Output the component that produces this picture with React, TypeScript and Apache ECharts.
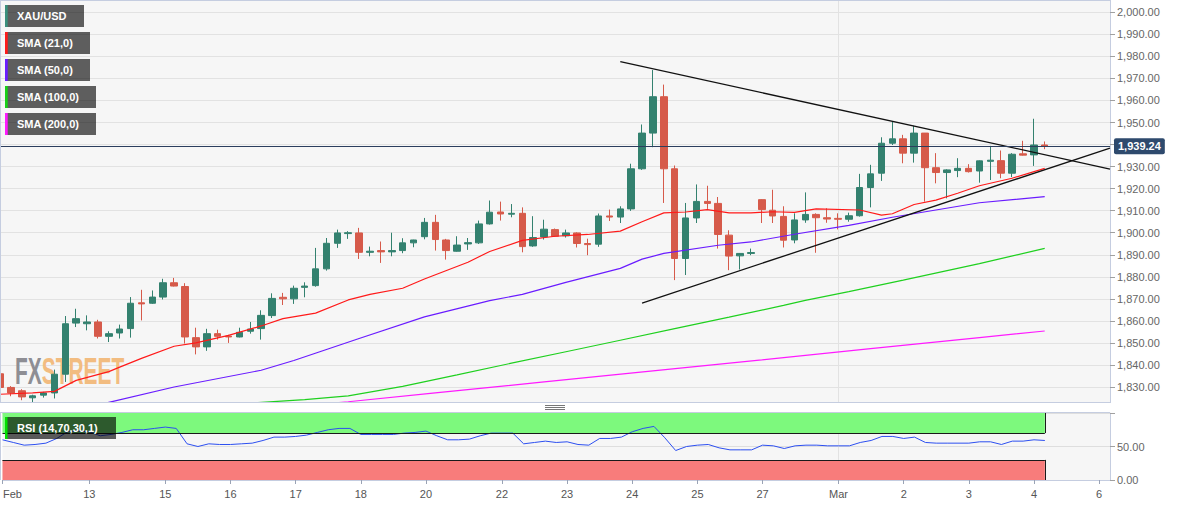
import React, { useEffect, useRef } from 'react';
import * as echarts from 'echarts';

// ---------- DATA ----------
const SLOT_COUNT = 103; // 4h slots on the time axis (97 candles + empty future slots)
const dayTickIndex = [0, 8, 15, 21, 27, 33, 39, 46, 52, 58, 64, 70, 77, 83, 89, 95, 101];
const dayTickLabel = ['Feb', '13', '15', '16', '17', '18', '20', '22', '23', '24', '25', '27', 'Mar', '2', '3', '4', '6'];
const monthLineIndex = 77;

// [open, close, low, high]
const candles: number[][] = [
  [1836, 1829.8, 1829, 1842.1],
  [1829.8, 1827.3, 1825.8, 1830.4],
  [1828.3, 1825.5, 1824, 1829],
  [1825.1, 1826, 1822.5, 1826.5],
  [1826.3, 1827.3, 1825.2, 1827.8],
  [1827.3, 1835.8, 1824.8, 1837.9],
  [1835.8, 1858.7, 1832.3, 1862.2],
  [1859, 1861, 1857.2, 1865.5],
  [1858.7, 1859.5, 1855.7, 1862.5],
  [1859.5, 1853, 1852, 1860.5],
  [1853, 1854.2, 1850.4, 1855.3],
  [1854.5, 1856.3, 1852, 1858.3],
  [1856.5, 1868, 1852.4, 1870.8],
  [1868.2, 1867.7, 1860.2, 1874.1],
  [1868, 1870.8, 1867.7, 1873.8],
  [1870.8, 1877.3, 1869.7, 1879.1],
  [1877.3, 1875.8, 1875.6, 1879.5],
  [1875.6, 1852.7, 1849.7, 1877.1],
  [1852.4, 1848.2, 1844.8, 1856.9],
  [1848.2, 1854.2, 1846.4, 1856.4],
  [1854.2, 1853, 1851.5, 1856],
  [1853.1, 1852.7, 1850, 1853.7],
  [1852.7, 1854.8, 1852.5, 1856.9],
  [1855.3, 1856.3, 1854.2, 1859.5],
  [1856.5, 1862.5, 1851.5, 1864.8],
  [1862.4, 1870.2, 1861.3, 1872.5],
  [1870.7, 1870, 1867.2, 1872.7],
  [1870, 1874.8, 1867.7, 1876],
  [1875.2, 1875.8, 1870.7, 1877.5],
  [1876, 1883.6, 1875.5, 1893.1],
  [1883.6, 1895.2, 1882.8, 1897.6],
  [1895.2, 1899.9, 1893.1, 1901.4],
  [1899.6, 1900, 1897.2, 1900.7],
  [1899.9, 1891.1, 1888.1, 1902.2],
  [1891.1, 1891.6, 1889.3, 1893.7],
  [1891.9, 1891.3, 1886.3, 1896],
  [1891.3, 1891.9, 1889.3, 1900],
  [1891.9, 1895.4, 1890.7, 1897.5],
  [1895.4, 1896.7, 1893.4, 1896.8],
  [1898.2, 1904.7, 1897, 1906.7],
  [1904.7, 1896.9, 1891.9, 1908.1],
  [1896.7, 1891.9, 1887.8, 1897.2],
  [1891.6, 1894.4, 1891.4, 1898.4],
  [1894.9, 1895.5, 1892.2, 1897.6],
  [1895.4, 1904, 1894.9, 1905.5],
  [1904, 1909.3, 1903.7, 1914.6],
  [1909.4, 1908.5, 1905.5, 1914.1],
  [1908.4, 1908.8, 1907, 1913],
  [1908.8, 1893.7, 1891.1, 1911.5],
  [1894, 1897.8, 1893.6, 1907.5],
  [1898.1, 1901.6, 1896.9, 1905.9],
  [1901.4, 1898.4, 1898.1, 1901.9],
  [1898.6, 1899.9, 1897.8, 1901.4],
  [1899.9, 1895.1, 1893.3, 1900.2],
  [1895.1, 1894.6, 1889.8, 1897.3],
  [1894.8, 1907.6, 1893.6, 1908.7],
  [1907.6, 1907.1, 1905.3, 1910.5],
  [1907.1, 1910.8, 1904.4, 1912],
  [1910.8, 1929, 1909.9, 1931.3],
  [1929, 1945.2, 1928.5, 1949.1],
  [1945.2, 1961.7, 1938.8, 1973.8],
  [1961.7, 1929, 1913.5, 1967.2],
  [1929, 1888.3, 1878.5, 1930.5],
  [1888.3, 1906.7, 1880.8, 1913.5],
  [1906.7, 1914.2, 1904.4, 1921.9],
  [1914.2, 1913.3, 1910.8, 1921.3],
  [1913.3, 1899.2, 1892.8, 1916.2],
  [1898.9, 1889.4, 1883, 1901.1],
  [1889.5, 1890.6, 1883.3, 1890.8],
  [1890.6, 1891, 1889.8, 1892.8],
  [1915, 1910.5, 1904.4, 1915.2],
  [1910.2, 1907.6, 1904.4, 1919.5],
  [1907.4, 1896.6, 1893.3, 1912],
  [1896.7, 1905.8, 1895.2, 1908.8],
  [1905.8, 1908.3, 1904.5, 1918.3],
  [1908.3, 1906.8, 1890.9, 1908.8],
  [1906.8, 1906.2, 1904.5, 1911.1],
  [1906.5, 1906.1, 1901.5, 1908.8],
  [1906.1, 1907.7, 1905, 1909.1],
  [1907.7, 1920.5, 1907.3, 1926.7],
  [1920.5, 1926.7, 1911.5, 1930.8],
  [1927, 1940.6, 1923.5, 1943.3],
  [1940.6, 1942.6, 1939.8, 1950.5],
  [1942.6, 1936.1, 1931.5, 1944.4],
  [1936.1, 1945.2, 1931.8, 1948.5],
  [1945.2, 1929.5, 1914.1, 1945.2],
  [1929.5, 1927.3, 1922.4, 1936.1],
  [1927.3, 1928.5, 1915.6, 1928.8],
  [1928.2, 1929.2, 1925.2, 1933.8],
  [1929.2, 1927.7, 1927.3, 1931.1],
  [1928, 1932.6, 1922.7, 1932.8],
  [1932.4, 1932.9, 1923.9, 1939.4],
  [1932.7, 1927, 1924.7, 1937.3],
  [1927, 1935.6, 1925.2, 1936.1],
  [1935.8, 1935.2, 1935, 1941.7],
  [1935.3, 1939.8, 1930.3, 1951.7],
  [1939.8, 1939.24, 1937.9, 1941.4],
];

// moving averages: [candle index, value]
const sma21: number[][] = [
  [0, 1826.7], [3, 1827.3], [5, 1828], [7, 1833], [10, 1837], [11, 1839], [13, 1843], [16, 1848.5],
  [18, 1850], [21, 1853.4], [24, 1857.7], [26, 1861], [29, 1863.5], [32, 1869.5], [34, 1872],
  [37, 1874.8], [39, 1879], [43, 1886.6], [45, 1891.5], [48, 1896.5], [51, 1898.4], [54, 1899.2],
  [57, 1900.7], [59, 1905], [61, 1909], [63, 1909.4], [65, 1910.5], [67, 1909], [69, 1909],
  [71, 1909.5], [73, 1909.2], [75, 1910.8], [79, 1910.3], [81, 1908], [82, 1908.6], [84, 1912.8],
  [86, 1914.8], [88, 1917.9], [90, 1921.3], [93, 1924.7], [96, 1929.2],
];
const sma50: number[][] = [
  [6, 1818], [10, 1823], [16, 1830], [24, 1837.6], [27, 1842], [33, 1852], [39, 1861.8], [45, 1869.2],
  [48, 1872], [52, 1877.5], [57, 1883.8], [59, 1888], [61, 1890.6], [66, 1894.3], [69, 1895.8],
  [73, 1899.3], [78, 1903.3], [82, 1907], [86, 1910.3], [90, 1913.6], [96, 1916.4],
];
const sma100: number[][] = [
  [15, 1820.3], [23, 1822.7], [28, 1824.3], [32, 1826], [37, 1830.3], [42, 1835.5], [47, 1840.8],
  [52, 1846], [57, 1851.2], [62, 1856.5], [67, 1861.7], [72, 1867], [74, 1869.3], [78, 1873.3],
  [83, 1878.5], [90, 1886], [96, 1892.9],
];
const sma200: number[][] = [
  [24, 1819.5], [30, 1822.5], [32, 1823.3], [40, 1827.3], [50, 1832.3], [60, 1837.3], [70, 1842.3],
  [80, 1847.4], [90, 1852.4], [96, 1855.4],
];

const rsi14: number[] = [
  60, 56, 52, 53, 55, 62, 72, 73, 72, 66,
  68, 71, 75, 75, 77, 79, 77, 54, 50, 54,
  53, 53, 54, 55, 59, 64, 64, 65, 67, 71,
  75, 77, 77, 68, 68, 68, 68, 70, 71, 73,
  66, 60, 60, 61, 66, 70, 70, 70, 54, 56,
  58, 56, 57, 53, 52, 62, 62, 64, 72, 77,
  80, 63, 44, 50, 52, 53, 48, 45, 45, 45,
  52, 51, 47, 51, 52, 52, 51, 51, 51, 56,
  59, 65, 65, 62, 64, 56, 55, 55, 55, 55,
  57, 57, 53, 58, 58, 60, 59,
];

const lastPrice = 1939.24;
const upperTrend = [[57, 1977.6], [102, 1928.9]];
const lowerTrend = [[59, 1868.1], [102, 1938.4]];
const rsiUpper = 70;
const rsiLower = 30;

const legendNames = ['XAU/USD', 'SMA (21,0)', 'SMA (50,0)', 'SMA (100,0)', 'SMA (200,0)'];
const legendColors = ['#3a8f7c', '#ff1a1a', '#6a1cff', '#18d018', '#ff1aff'];
const legendWidths = [79, 85, 85, 91, 91];

// ---------- CHART ----------
const FONT = '"Liberation Sans", Arial, sans-serif';
const fmtPrice = (v: number) =>
  v.toLocaleString('en-US', { minimumFractionDigits: 2, maximumFractionDigits: 2 });

export default function App() {
  const ref = useRef<HTMLDivElement>(null);

  useEffect(() => {
    document.body.style.margin = '0';
    if (!ref.current) return;
    const chart = echarts.init(ref.current, undefined, { renderer: 'svg' });

    const categories = Array.from({ length: SLOT_COUNT }, (_, i) => String(i));
    const labelAt = new Map<number, string>(dayTickIndex.map((idx, k) => [idx, dayTickLabel[k]]));
    const isTick = (i: number) => labelAt.has(i);
    const lastIdx = candles.length - 1;

    const legendGraphics: any[] = [];
    legendNames.forEach((name, k) => {
      const y = 5 + k * 27;
      legendGraphics.push(
        { type: 'rect', z: 30, silent: true, shape: { x: 5, y, width: legendWidths[k], height: 22 }, style: { fill: 'rgba(0,0,0,0.62)' } },
        { type: 'rect', z: 31, silent: true, shape: { x: 5, y, width: 2.7, height: 22 }, style: { fill: legendColors[k] } },
        {
          type: 'text', z: 31, silent: true, x: 17, y: y + 11,
          style: { text: name, fill: '#ffffff', font: `bold 11px ${FONT}`, verticalAlign: 'middle', textVerticalAlign: 'middle' },
        },
      );
    });

    const axisBlue = '#c5cde0';

    chart.setOption({
      animation: false,
      textStyle: { fontFamily: FONT },
      grid: [
        { left: 0, right: 84, top: 0, height: 409.04, show: true, backgroundColor: '#f6f6f6', borderWidth: 0 },
        { left: 0, right: 84, top: 413, height: 67, show: true, backgroundColor: '#f6f6f6', borderWidth: 0 },
      ],
      xAxis: [
        {
          type: 'category', gridIndex: 0, data: categories, boundaryGap: false,
          axisLine: { show: false }, axisTick: { show: false }, axisLabel: { show: false },
          splitLine: { show: true, interval: (i: number) => i === monthLineIndex, lineStyle: { color: '#e2e2e2' } },
        },
        {
          type: 'category', gridIndex: 1, data: categories, boundaryGap: false,
          axisLine: { show: true, lineStyle: { color: axisBlue } },
          axisTick: { show: true, interval: (i: number) => isTick(i), length: 4, lineStyle: { color: '#9aa3b5' } },
          axisLabel: {
            interval: (i: number) => isTick(i),
            formatter: (_v: string, i: number) => (i === 0 ? `{f|${labelAt.get(i)}}` : labelAt.get(i) ?? ''),
            rich: { f: { padding: [0, 0, 0, 20], color: '#555', fontSize: 11 } },
            color: '#555', fontSize: 11, margin: 8,
          },
          splitLine: { show: true, interval: (i: number) => i === monthLineIndex, lineStyle: { color: '#e2e2e2' } },
        },
      ],
      yAxis: [
        {
          type: 'value', gridIndex: 0, position: 'right', min: 1820, max: 2005.58, interval: 10,
          axisLine: { show: true, lineStyle: { color: axisBlue } },
          axisTick: { show: true, length: 5, lineStyle: { color: '#a0a0a0' } },
          axisLabel: {
            color: '#666', fontSize: 11, margin: 7, showMaxLabel: false,
            formatter: (v: number) => (v < 1825 || v > 2001 ? '' : fmtPrice(v)),
          },
          splitLine: { show: true, lineStyle: { color: '#e2e2e2' } },
        },
        {
          type: 'value', gridIndex: 1, position: 'right', min: 0, max: 100, interval: 50,
          axisLine: { show: true, lineStyle: { color: axisBlue } },
          axisTick: { show: true, length: 5, lineStyle: { color: '#a0a0a0' } },
          axisLabel: { color: '#666', fontSize: 11, margin: 7, formatter: (v: number) => (v === 100 ? '' : v.toFixed(2)) },
          splitLine: { show: true, lineStyle: { color: '#dedede' } },
        },
      ],
      series: [
        {
          type: 'candlestick', name: 'XAU/USD', xAxisIndex: 0, yAxisIndex: 0, data: candles,
          barWidth: 7, clip: true, z: 2,
          itemStyle: { color: '#33816f', color0: '#d65a4a', borderColor: '#33816f', borderColor0: '#d65a4a', borderWidth: 1 },
          markLine: {
            silent: true, symbol: ['none', 'none'], animation: false,
            label: { show: false },
            lineStyle: { color: '#111', width: 1.3, type: 'solid' },
            data: [
              [{ coord: upperTrend[0] }, { coord: upperTrend[1] }],
              [{ coord: lowerTrend[0] }, { coord: lowerTrend[1] }],
              {
                yAxis: lastPrice,
                lineStyle: { color: '#2c3e5e', width: 1, type: 'solid' },
                label: {
                  show: true, position: 'end', distance: 4, formatter: fmtPrice(lastPrice),
                  color: '#fff', fontWeight: 'bold', fontSize: 11, fontFamily: FONT,
                  backgroundColor: '#2e4a6d', padding: [3, 4, 2, 4], borderRadius: 2,
                },
              },
            ],
          },
        },
        { type: 'line', name: 'SMA (21,0)', data: sma21, symbol: 'none', clip: true, z: 3, lineStyle: { color: '#ff1a1a', width: 1.2 } },
        { type: 'line', name: 'SMA (50,0)', data: sma50, symbol: 'none', clip: true, z: 3, lineStyle: { color: '#6a1cff', width: 1.2 } },
        { type: 'line', name: 'SMA (100,0)', data: sma100, symbol: 'none', clip: true, z: 3, lineStyle: { color: '#1fd01f', width: 1.2 } },
        { type: 'line', name: 'SMA (200,0)', data: sma200, symbol: 'none', clip: true, z: 3, lineStyle: { color: '#ff1aff', width: 1.2 } },
        {
          type: 'line', name: 'RSI', xAxisIndex: 1, yAxisIndex: 1, data: rsi14, symbol: 'none', z: 3,
          lineStyle: { color: '#2c4ff0', width: 1 },
          markArea: {
            silent: true,
            data: [
              [{ coord: [0, rsiUpper], itemStyle: { color: '#7df97d' } }, { coord: [lastIdx, 100] }],
              [{ coord: [0, 0], itemStyle: { color: '#f87c7b' } }, { coord: [lastIdx, rsiLower] }],
            ],
          },
          markLine: {
            silent: true, symbol: ['none', 'none'], label: { show: false },
            lineStyle: { color: '#1a1a1a', width: 1, type: 'solid' },
            data: [
              [{ coord: [0, rsiUpper] }, { coord: [lastIdx, rsiUpper] }],
              [{ coord: [0, rsiLower] }, { coord: [lastIdx, rsiLower] }],
              [{ coord: [lastIdx, rsiUpper] }, { coord: [lastIdx, 100] }],
              [{ coord: [lastIdx, 0] }, { coord: [lastIdx, rsiLower] }],
            ],
          },
        },
      ],
      graphic: [
        {
          type: 'text', x: 15, y: 371, scaleX: 0.565, z: 1, silent: true,
          style: {
            text: '{a|FX}{b|STREET}',
            font: `bold 37px ${FONT}`,
            verticalAlign: 'middle', textVerticalAlign: 'middle',
            rich: {
              a: { fill: '#8e8e94', fontSize: 37, fontWeight: 'bold', fontFamily: FONT },
              b: { fill: '#f2bc80', fontSize: 37, fontWeight: 'bold', fontFamily: FONT },
            },
          },
        },
        // gap between panels
        { type: 'rect', z: 20, silent: true, shape: { x: 0, y: 403, width: 1194, height: 9.5 }, style: { fill: '#ffffff' } },
        // frame lines
        { type: 'line', z: 21, silent: true, shape: { x1: 0, y1: 0.5, x2: 1110, y2: 0.5 }, style: { stroke: axisBlue, lineWidth: 1 } },
        { type: 'line', z: 21, silent: true, shape: { x1: 0.5, y1: 0, x2: 0.5, y2: 403 }, style: { stroke: axisBlue, lineWidth: 1 } },
        { type: 'line', z: 21, silent: true, shape: { x1: 0.5, y1: 413, x2: 0.5, y2: 480 }, style: { stroke: axisBlue, lineWidth: 1 } },
        { type: 'line', z: 21, silent: true, shape: { x1: 0, y1: 402.5, x2: 1110, y2: 402.5 }, style: { stroke: axisBlue, lineWidth: 1 } },
        { type: 'line', z: 21, silent: true, shape: { x1: 0, y1: 412.5, x2: 1110, y2: 412.5 }, style: { stroke: axisBlue, lineWidth: 1 } },
        // resize handle
        { type: 'line', z: 21, silent: true, shape: { x1: 545, y1: 405.5, x2: 565, y2: 405.5 }, style: { stroke: '#777', lineWidth: 1 } },
        { type: 'line', z: 21, silent: true, shape: { x1: 545, y1: 407.5, x2: 565, y2: 407.5 }, style: { stroke: '#777', lineWidth: 1 } },
        { type: 'line', z: 21, silent: true, shape: { x1: 545, y1: 409.5, x2: 565, y2: 409.5 }, style: { stroke: '#777', lineWidth: 1 } },
        ...legendGraphics,
        // RSI label
        { type: 'rect', z: 30, silent: true, shape: { x: 5, y: 417, width: 111, height: 22 }, style: { fill: 'rgba(0,0,0,0.64)' } },
        { type: 'rect', z: 31, silent: true, shape: { x: 5, y: 417, width: 2.5, height: 22 }, style: { fill: '#00e000' } },
        {
          type: 'text', z: 31, silent: true, x: 17, y: 428,
          style: { text: 'RSI (14,70,30,1)', fill: '#ffffff', font: `bold 11px ${FONT}`, verticalAlign: 'middle', textVerticalAlign: 'middle' },
        },
      ],
    });

    return () => chart.dispose();
  }, []);

  return <div ref={ref} style={{ width: 1194, height: 506 }} />;
}
